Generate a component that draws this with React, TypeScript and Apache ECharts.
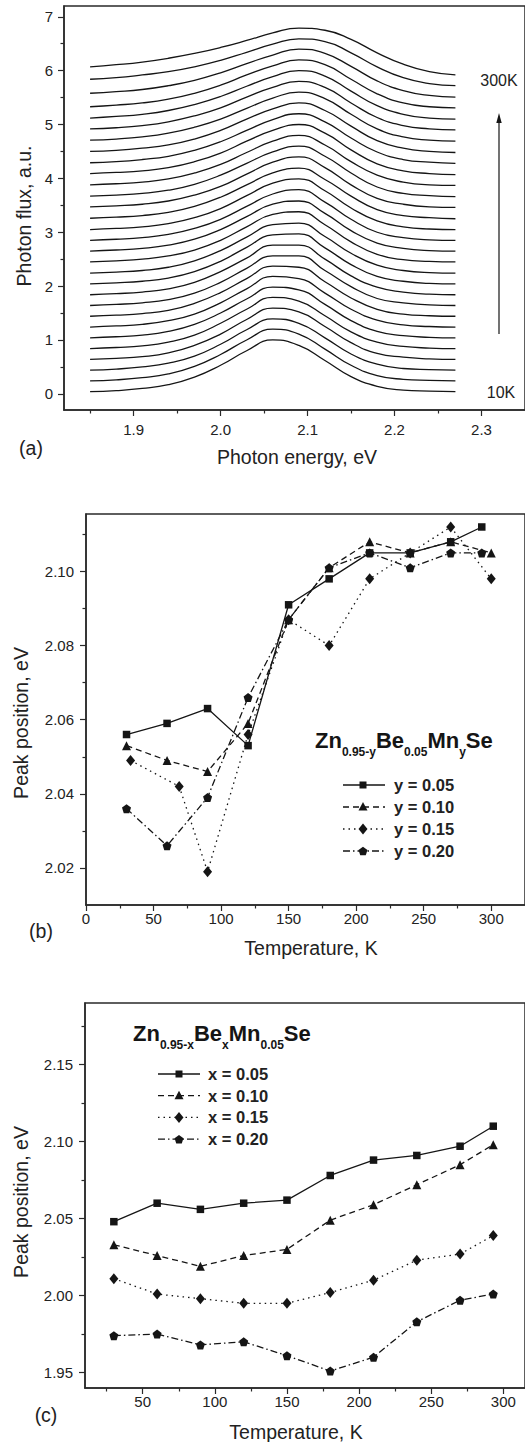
import { useEffect, useRef } from "react";
import * as echarts from "echarts";

// ---------- Panel (a): photoluminescence spectra, 10K .. 300K ----------
const energies = [1.85, 1.88, 1.91, 1.94, 1.97, 2.0, 2.03, 2.06, 2.09, 2.12, 2.15, 2.18, 2.21, 2.24, 2.27];
const spectrumTemps = [10, 20, 30, 40, 50, 60, 70, 80, 90, 100, 110, 120, 130, 140, 150, 160, 170, 180, 190, 200, 210, 220, 230, 240, 250, 260, 270, 280, 290, 300];
const spectrumOffsetStep = 0.2;
// normalised profiles (before the vertical offset), one row per temperature
const spectra: number[][] = [
  [0.04, 0.06, 0.10, 0.17, 0.31, 0.53, 0.80, 1.00, 0.90, 0.62, 0.32, 0.14, 0.07, 0.05, 0.04],
  [0.04, 0.06, 0.10, 0.17, 0.31, 0.53, 0.80, 1.00, 0.91, 0.63, 0.33, 0.14, 0.07, 0.05, 0.04],
  [0.04, 0.06, 0.10, 0.17, 0.30, 0.52, 0.79, 0.99, 0.91, 0.64, 0.34, 0.15, 0.07, 0.05, 0.04],
  [0.04, 0.06, 0.09, 0.16, 0.30, 0.51, 0.78, 0.99, 0.92, 0.65, 0.35, 0.15, 0.08, 0.05, 0.04],
  [0.04, 0.06, 0.09, 0.16, 0.29, 0.51, 0.77, 0.99, 0.92, 0.65, 0.35, 0.16, 0.08, 0.05, 0.04],
  [0.04, 0.06, 0.09, 0.16, 0.29, 0.50, 0.76, 0.98, 0.93, 0.66, 0.36, 0.16, 0.08, 0.05, 0.04],
  [0.04, 0.06, 0.09, 0.16, 0.28, 0.49, 0.75, 0.98, 0.94, 0.67, 0.37, 0.17, 0.08, 0.05, 0.04],
  [0.04, 0.06, 0.09, 0.15, 0.28, 0.48, 0.74, 0.97, 0.95, 0.68, 0.38, 0.17, 0.08, 0.05, 0.04],
  [0.04, 0.06, 0.09, 0.15, 0.27, 0.47, 0.73, 0.96, 0.96, 0.69, 0.39, 0.17, 0.09, 0.05, 0.04],
  [0.04, 0.06, 0.09, 0.15, 0.27, 0.47, 0.72, 0.96, 0.96, 0.70, 0.39, 0.18, 0.09, 0.05, 0.04],
  [0.04, 0.06, 0.09, 0.15, 0.27, 0.46, 0.72, 0.95, 0.97, 0.71, 0.40, 0.18, 0.09, 0.05, 0.04],
  [0.04, 0.06, 0.09, 0.15, 0.27, 0.46, 0.71, 0.94, 0.97, 0.72, 0.41, 0.19, 0.09, 0.05, 0.04],
  [0.05, 0.07, 0.10, 0.16, 0.27, 0.45, 0.70, 0.93, 0.98, 0.74, 0.42, 0.19, 0.09, 0.06, 0.05],
  [0.05, 0.07, 0.10, 0.16, 0.27, 0.45, 0.69, 0.92, 0.98, 0.75, 0.43, 0.20, 0.10, 0.06, 0.05],
  [0.05, 0.07, 0.10, 0.16, 0.27, 0.44, 0.68, 0.91, 0.99, 0.76, 0.44, 0.20, 0.10, 0.06, 0.05],
  [0.05, 0.07, 0.10, 0.16, 0.27, 0.44, 0.68, 0.91, 0.99, 0.77, 0.45, 0.21, 0.10, 0.06, 0.05],
  [0.06, 0.08, 0.11, 0.17, 0.28, 0.45, 0.68, 0.90, 0.99, 0.78, 0.47, 0.22, 0.11, 0.07, 0.05],
  [0.07, 0.09, 0.12, 0.18, 0.29, 0.45, 0.68, 0.90, 1.00, 0.80, 0.48, 0.23, 0.12, 0.07, 0.06],
  [0.07, 0.09, 0.12, 0.18, 0.29, 0.46, 0.68, 0.89, 1.00, 0.81, 0.50, 0.24, 0.12, 0.08, 0.06],
  [0.08, 0.10, 0.13, 0.19, 0.30, 0.46, 0.68, 0.89, 1.00, 0.82, 0.51, 0.26, 0.13, 0.08, 0.07],
  [0.09, 0.11, 0.14, 0.20, 0.31, 0.47, 0.69, 0.89, 1.00, 0.84, 0.53, 0.27, 0.14, 0.09, 0.07],
  [0.09, 0.11, 0.15, 0.21, 0.32, 0.48, 0.69, 0.89, 1.00, 0.85, 0.55, 0.29, 0.15, 0.10, 0.08],
  [0.10, 0.12, 0.16, 0.22, 0.33, 0.49, 0.70, 0.89, 1.00, 0.86, 0.57, 0.30, 0.16, 0.10, 0.08],
  [0.11, 0.13, 0.17, 0.24, 0.35, 0.50, 0.70, 0.89, 1.00, 0.88, 0.59, 0.32, 0.17, 0.11, 0.09],
  [0.12, 0.14, 0.18, 0.25, 0.36, 0.51, 0.71, 0.89, 1.00, 0.89, 0.60, 0.33, 0.18, 0.12, 0.10],
  [0.12, 0.15, 0.19, 0.26, 0.37, 0.52, 0.71, 0.89, 1.00, 0.90, 0.62, 0.35, 0.19, 0.12, 0.10],
  [0.13, 0.16, 0.20, 0.27, 0.38, 0.53, 0.72, 0.89, 1.00, 0.91, 0.64, 0.37, 0.20, 0.13, 0.11],
  [0.18, 0.21, 0.25, 0.32, 0.42, 0.56, 0.73, 0.89, 1.00, 0.92, 0.68, 0.41, 0.23, 0.14, 0.11],
  [0.24, 0.27, 0.32, 0.38, 0.47, 0.59, 0.74, 0.89, 0.99, 0.94, 0.73, 0.47, 0.27, 0.16, 0.12],
  [0.27, 0.31, 0.36, 0.43, 0.52, 0.63, 0.76, 0.90, 0.99, 0.95, 0.78, 0.53, 0.32, 0.18, 0.12],
];
const aXTicks = [1.9, 2.0, 2.1, 2.2, 2.3];
const aXMinor = [1.85, 1.95, 2.05, 2.15, 2.25];
const aYTicks = [0, 1, 2, 3, 4, 5, 6, 7];
const aYMinor = [0.5, 1.5, 2.5, 3.5, 4.5, 5.5, 6.5];

// ---------- Panel (b): Zn(0.95-y)Be(0.05)Mn(y)Se ----------
const bTempsSquare = [30, 60, 90, 120, 150, 180, 210, 240, 270, 293];
const bTempsTriangle = [30, 60, 90, 120, 150, 180, 210, 240, 270, 300];
const bTempsDiamond = [33, 69, 90, 120, 150, 180, 210, 240, 270, 300];
const bTempsPentagon = [30, 60, 90, 120, 150, 180, 210, 240, 270, 293];
const bY005 = [2.056, 2.059, 2.063, 2.053, 2.091, 2.098, 2.105, 2.105, 2.108, 2.112];
const bY010 = [2.053, 2.049, 2.046, 2.059, 2.087, 2.101, 2.108, 2.105, 2.108, 2.105];
const bY015 = [2.049, 2.042, 2.019, 2.056, 2.087, 2.080, 2.098, 2.105, 2.112, 2.098];
const bY020 = [2.036, 2.026, 2.039, 2.066, 2.087, 2.101, 2.105, 2.101, 2.105, 2.105];
const bXTicks = [0, 50, 100, 150, 200, 250, 300];
const bXMinor = [25, 75, 125, 175, 225, 275];
const bYTicks = [2.02, 2.04, 2.06, 2.08, 2.1];
const bYMinor = [2.03, 2.05, 2.07, 2.09, 2.11];
const bLegend = ["y = 0.05", "y = 0.10", "y = 0.15", "y = 0.20"];

// ---------- Panel (c): Zn(0.95-x)Be(x)Mn(0.05)Se ----------
const cTemps = [30, 60, 90, 120, 150, 180, 210, 240, 270, 293];
const cX005 = [2.048, 2.060, 2.056, 2.060, 2.062, 2.078, 2.088, 2.091, 2.097, 2.110];
const cX010 = [2.033, 2.026, 2.019, 2.026, 2.030, 2.049, 2.059, 2.072, 2.085, 2.098];
const cX015 = [2.011, 2.001, 1.998, 1.995, 1.995, 2.002, 2.010, 2.023, 2.027, 2.039];
const cX020 = [1.974, 1.975, 1.968, 1.970, 1.961, 1.951, 1.960, 1.983, 1.997, 2.001];
const cXTicks = [50, 100, 150, 200, 250, 300];
const cXMinor = [25, 75, 125, 175, 225, 275];
const cYTicks = [1.95, 2.0, 2.05, 2.1, 2.15];
const cYMinor = [1.975, 2.025, 2.075, 2.125, 2.175];
const cLegend = ["x = 0.05", "x = 0.10", "x = 0.15", "x = 0.20"];

const FF = "'Liberation Sans', Arial, Helvetica, sans-serif";
const INK = "#151515";
const AXIS = "#2a2a2a";
const TXT = "#222";

const DASHES: any[] = ["solid", [6, 4], [1.5, 4], [7, 3, 1.5, 3]];
const PENTAGON = "path://M0,-1L0.951,-0.309L0.588,0.809L-0.588,0.809L-0.951,-0.309Z";
const SYMBOLS: any[] = ["rect", "triangle", "diamond", PENTAGON];
const SYMSIZE: any[] = [7.5, 9, [9, 11], 9];

function measure(text: string, font: string): number {
  const ctx = document.createElement("canvas").getContext("2d");
  if (!ctx) return text.length * 10;
  ctx.font = font;
  return ctx.measureText(text).width;
}

function xPair(gridIndex: number, min: number, max: number, major: number[], minor: number[], digits: number, margin: number) {
  return [
    {
      type: "value", gridIndex, min, max, position: "bottom",
      axisLine: { show: true, onZero: false, lineStyle: { color: AXIS, width: 1.5 } },
      axisTick: { show: true, inside: false, length: 6, lineStyle: { color: AXIS, width: 1.2 }, customValues: major },
      axisLabel: { show: true, customValues: major, margin, fontSize: 15, color: TXT, fontFamily: FF, formatter: (v: number) => v.toFixed(digits) },
      splitLine: { show: false },
    },
    {
      type: "value", gridIndex, min, max, position: "bottom",
      axisLine: { show: false, onZero: false },
      axisTick: { show: true, inside: false, length: 3.5, lineStyle: { color: AXIS, width: 1.2 }, customValues: minor },
      axisLabel: { show: false },
      splitLine: { show: false },
    },
  ];
}

function yPair(gridIndex: number, min: number, max: number, major: number[], minor: number[], digits: number, margin: number) {
  return [
    {
      type: "value", gridIndex, min, max, position: "left",
      axisLine: { show: true, onZero: false, lineStyle: { color: AXIS, width: 1.5 } },
      axisTick: { show: true, inside: false, length: 6, lineStyle: { color: AXIS, width: 1.2 }, customValues: major },
      axisLabel: { show: true, customValues: major, margin, fontSize: 15, color: TXT, fontFamily: FF, formatter: (v: number) => v.toFixed(digits) },
      splitLine: { show: false },
    },
    {
      type: "value", gridIndex, min, max, position: "left",
      axisLine: { show: false, onZero: false },
      axisTick: { show: true, inside: false, length: 3.5, lineStyle: { color: AXIS, width: 1.2 }, customValues: minor },
      axisLabel: { show: false },
      splitLine: { show: false },
    },
  ];
}

function text(t: string, x: number, y: number, size: number, opts: any = {}) {
  return {
    type: "text", x, y, rotation: opts.rotation || 0,
    style: {
      text: t, fontSize: size, fontFamily: FF, fontWeight: opts.bold ? "bold" : "normal",
      fill: TXT, align: opts.align || "center", verticalAlign: "middle",
    },
  };
}

function formula(parts: [string, boolean][], x0: number, baseline: number) {
  const els: any[] = [];
  let x = x0;
  for (const [t, sub] of parts) {
    const fs = sub ? 12 : 22;
    const bl = sub ? baseline + 8 : baseline;
    els.push({
      type: "text", x, y: bl - 0.35 * fs,
      style: { text: t, fontSize: fs, fontWeight: "bold", fontFamily: FF, fill: INK, align: "left", verticalAlign: "middle" },
    });
    x += measure(t, `bold ${fs}px ${FF}`);
  }
  return els;
}

function marker(kind: number, xm: number, y: number) {
  const style = { fill: INK };
  if (kind === 0) return { type: "rect", shape: { x: xm - 3.5, y: y - 3.5, width: 7, height: 7 }, style };
  if (kind === 1) return { type: "polygon", shape: { points: [[xm, y - 5], [xm + 4.5, y + 3.5], [xm - 4.5, y + 3.5]] }, style };
  if (kind === 2) return { type: "polygon", shape: { points: [[xm, y - 5.5], [xm + 4.5, y], [xm, y + 5.5], [xm - 4.5, y]] }, style };
  const pts = [[0, -1], [0.951, -0.309], [0.588, 0.809], [-0.588, 0.809], [-0.951, -0.309]].map(([a, b]) => [xm + a * 4.7, y + b * 4.7 + 0.5]);
  return { type: "polygon", shape: { points: pts }, style };
}

function legend(labels: string[], x1: number, x2: number, xm: number, labelX: number, y0: number, dy: number) {
  const els: any[] = [];
  labels.forEach((lab, i) => {
    const y = y0 + i * dy;
    const dash = DASHES[i];
    els.push({
      type: "line", shape: { x1, y1: y, x2, y2: y },
      style: { stroke: INK, lineWidth: 1.3, lineDash: dash === "solid" ? null : dash },
    });
    els.push(marker(i, xm, y));
    els.push(text(lab, labelX, y, 16.5, { bold: true, align: "left" }));
  });
  return els;
}

function markerSeries(name: string, xs: number[], ys: number[], idx: number, axis: number) {
  return {
    type: "line", name, xAxisIndex: axis, yAxisIndex: axis,
    data: xs.map((x, j) => [x, ys[j]]),
    symbol: SYMBOLS[idx], symbolSize: SYMSIZE[idx], showSymbol: true,
    itemStyle: { color: INK, borderWidth: 0 },
    lineStyle: { color: INK, width: 1.3, type: DASHES[idx] },
    z: 3,
  };
}

export default function App() {
  const ref = useRef<HTMLDivElement>(null);
  useEffect(() => {
    if (!ref.current) return;
    const chart = echarts.init(ref.current, undefined, { renderer: "svg" });

    const spectraSeries = spectra.map((row, i) => ({
      type: "line", name: `${spectrumTemps[i]}K`, xAxisIndex: 0, yAxisIndex: 0,
      data: row.map((v, j) => [energies[j], v + i * spectrumOffsetStep]),
      smooth: 0.5, showSymbol: false, symbol: "none",
      lineStyle: { color: INK, width: 1.3 },
    }));

    const graphics: any[] = [
      // panel a annotations
      text("300K", 499, 80, 16),
      text("10K", 501, 392, 16),
      { type: "line", shape: { x1: 499, y1: 334, x2: 499, y2: 120 }, style: { stroke: INK, lineWidth: 1.2 } },
      { type: "polygon", shape: { points: [[499, 113], [496.3, 123], [501.7, 123]] }, style: { fill: INK } },
      text("Photon flux, a.u.", 23.5, 216, 19.5, { rotation: Math.PI / 2 }),
      text("Photon energy, eV", 297, 457, 19.5),
      text("(a)", 31, 448, 19.5),
      // panel b
      text("Peak position, eV", 21, 723, 19.5, { rotation: Math.PI / 2 }),
      text("Temperature, K", 311, 948, 19.5),
      text("(b)", 41, 931, 19.5),
      ...formula([["Zn", false], ["0.95-y", true], ["Be", false], ["0.05", true], ["Mn", false], ["y", true], ["Se", false]], 315, 748),
      ...legend(bLegend, 343, 385, 363, 394, 785, 22),
      // panel c
      text("Peak position, eV", 21, 1202, 19.5, { rotation: Math.PI / 2 }),
      text("Temperature, K", 296, 1432, 19.5),
      text("(c)", 46, 1415, 19.5),
      ...formula([["Zn", false], ["0.95-x", true], ["Be", false], ["x", true], ["Mn", false], ["0.05", true], ["Se", false]], 133, 1041),
      ...legend(cLegend, 158, 200, 179, 208, 1074, 21.7),
    ];

    const gridStyle = { show: true, borderColor: AXIS, borderWidth: 1.5, backgroundColor: "transparent" };

    chart.setOption({
      animation: false,
      grid: [
        { left: 64, top: 6, width: 465, height: 404, ...gridStyle },
        { left: 86, top: 514, width: 444, height: 391, ...gridStyle },
        { left: 85, top: 1003, width: 446, height: 385, ...gridStyle },
      ],
      xAxis: [
        ...xPair(0, 1.82, 2.35, aXTicks, aXMinor, 1, 12),
        ...xPair(1, 0, 325, bXTicks, bXMinor, 0, 6),
        ...xPair(2, 10, 315, cXTicks, cXMinor, 0, 6),
      ],
      yAxis: [
        ...yPair(0, -0.3, 7.2, aYTicks, aYMinor, 0, 11),
        ...yPair(1, 2.01, 2.1155, bYTicks, bYMinor, 2, 12),
        ...yPair(2, 1.94, 2.19, cYTicks, cYMinor, 2, 12),
      ],
      series: [
        ...spectraSeries,
        markerSeries(bLegend[0], bTempsSquare, bY005, 0, 2),
        markerSeries(bLegend[1], bTempsTriangle, bY010, 1, 2),
        markerSeries(bLegend[2], bTempsDiamond, bY015, 2, 2),
        markerSeries(bLegend[3], bTempsPentagon, bY020, 3, 2),
        markerSeries(cLegend[0], cTemps, cX005, 0, 4),
        markerSeries(cLegend[1], cTemps, cX010, 1, 4),
        markerSeries(cLegend[2], cTemps, cX015, 2, 4),
        markerSeries(cLegend[3], cTemps, cX020, 3, 4),
      ],
      graphic: graphics,
    });
    return () => chart.dispose();
  }, []);
  return <div ref={ref} style={{ position: "absolute", left: 0, top: 0, width: 525, height: 1442, background: "#fff" }} />;
}
